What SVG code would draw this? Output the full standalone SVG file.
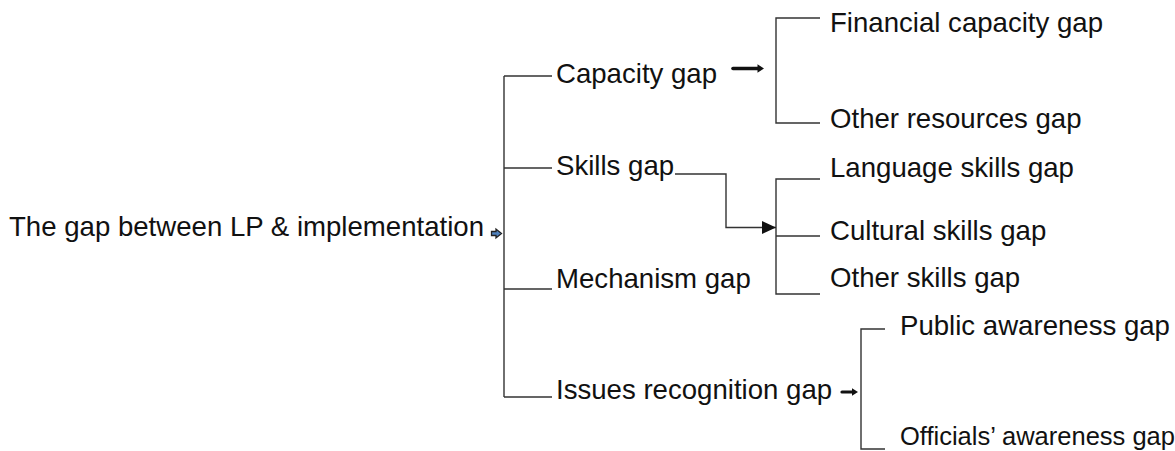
<svg xmlns="http://www.w3.org/2000/svg" width="1175" height="451" viewBox="0 0 1175 451">
<style>
.t{font-family:"Liberation Sans",Arial,sans-serif;font-size:27.6px;fill:#111}
.s{font-size:25.5px}
.c{fill:none;stroke:#333;stroke-width:1.4}
.a{fill:none;stroke:#111;stroke-linecap:round}
.h{fill:#111}
</style>
<defs>
<marker id="big" markerWidth="14" markerHeight="13" refX="14" refY="6.5" orient="auto" markerUnits="userSpaceOnUse"><path d="M0,0 L14,6.5 L0,13 Z" fill="#111"/></marker>
</defs>
<rect width="1175" height="451" fill="#fff"/>
<g id="connectors">
<path class="c" d="M504,76 V397"/>
<path class="c" d="M504,76 H552 M504,168 H552 M504,289 H552 M504,397 H552"/>
<path class="c" d="M820,18 H776 V123 H820"/>
<path class="c" d="M820,179 H776 V294 H820 M776,236 H820"/>
<path class="c" d="M885,329 H861 V449 H885"/>
<path class="c" d="M675,174 H726 V227.5 H776" marker-end="url(#big)"/>
<path class="a" d="M733,68.5 H759" stroke-width="3.6"/>
<path class="h" d="M757.5,64.3 L764,68.5 L757.5,72.7 Z"/>
<path class="a" d="M842,392 H853" stroke-width="3.2"/>
<path class="h" d="M852,388.2 L858,392 L852,395.8 Z"/>
<path d="M491.5,231.5 H496 V229 L501.5,233.5 L496,238 V235.5 H491.5 Z" fill="#4f81bd" stroke="#222" stroke-width="1.3"/>
</g>
<g id="root"><text class="t" x="9" y="236">The gap between LP &amp; implementation</text></g>
<g id="capacity"><text class="t" x="556" y="83">Capacity gap</text></g>
<g id="skills"><text class="t" x="556" y="175">Skills gap</text></g>
<g id="mechanism"><text class="t" x="556" y="288">Mechanism gap</text></g>
<g id="issues"><text class="t" x="556" y="399">Issues recognition gap</text></g>
<g id="financial"><text class="t" x="830" y="32">Financial capacity gap</text></g>
<g id="otherres"><text class="t" x="830" y="128">Other resources gap</text></g>
<g id="language"><text class="t" x="830" y="177">Language skills gap</text></g>
<g id="cultural"><text class="t" x="830" y="240">Cultural skills gap</text></g>
<g id="otherskills"><text class="t" x="830" y="287">Other skills gap</text></g>
<g id="public"><text class="t" x="900" y="335">Public awareness gap</text></g>
<g id="officials"><text class="t s" x="900" y="445">Officials’ awareness gap</text></g>
</svg>
